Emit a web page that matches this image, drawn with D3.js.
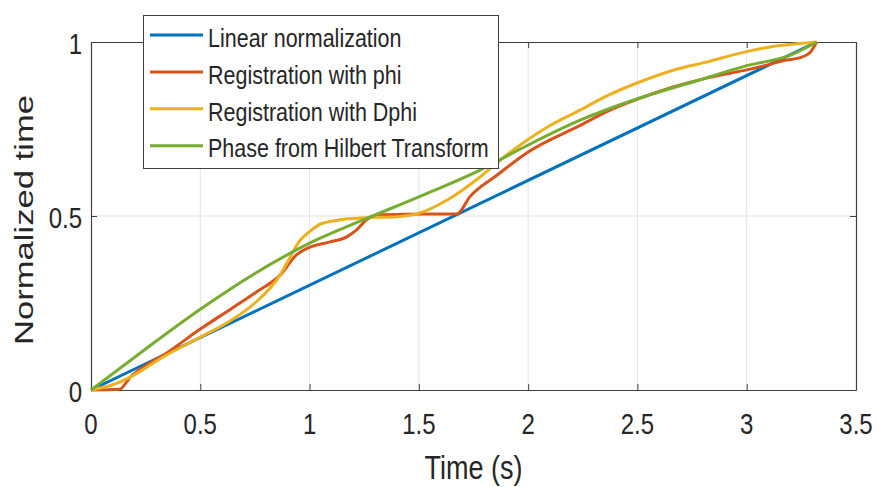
<!DOCTYPE html>
<html>
<head>
<meta charset="utf-8">
<script src="https://cdn.jsdelivr.net/npm/d3@7"></script>
<style>
  body { margin: 0; background: #fff; }
  text { font-family: 'Liberation Sans', Arial, sans-serif; fill: #262626; }
</style>
</head>
<body>
<svg id="chart" width="879" height="487"></svg>
<script>
// Series names (legend order)
const seriesNames = ['Linear normalization', 'Registration with phi', 'Registration with Dphi', 'Phase from Hilbert Transform']

// [time (s), normalized time]
const linearNorm = [[0, 0], [3.32, 1]]
const regPhi = [
  [0, 0], [0.13, 0.002], [0.18, 0.037], [0.25, 0.07], [0.33, 0.1], [0.5, 0.175], [0.64, 0.233],
  [0.75, 0.279], [0.865, 0.33], [0.94, 0.388], [1.0, 0.41], [1.09, 0.425], [1.17, 0.44],
  [1.215, 0.46], [1.26, 0.489], [1.31, 0.503], [1.45, 0.505], [1.675, 0.506], [1.733, 0.555],
  [1.857, 0.617], [2.0, 0.684], [2.24, 0.761], [2.36, 0.8], [2.51, 0.838], [2.66, 0.87],
  [2.82, 0.897], [3.0, 0.92], [3.1, 0.935], [3.17, 0.947], [3.245, 0.955], [3.29, 0.97], [3.32, 1.0]
]
const regDphi = [
  [0, 0], [0.1, 0.015], [0.18, 0.037], [0.33, 0.095], [0.5, 0.152], [0.64, 0.2], [0.75, 0.25],
  [0.865, 0.33], [0.91, 0.38], [0.95, 0.425], [1.0, 0.455], [1.05, 0.477], [1.14, 0.489],
  [1.25, 0.495], [1.4, 0.498], [1.5, 0.508], [1.63, 0.546], [1.78, 0.612], [1.9, 0.675],
  [2.0, 0.72], [2.1, 0.76], [2.24, 0.805], [2.36, 0.845], [2.51, 0.885], [2.66, 0.918],
  [2.82, 0.943], [2.97, 0.968], [3.12, 0.987], [3.27, 0.997], [3.32, 1.0]
]
const hilbertPhase = [
  [0, 0], [0.1, 0.047], [0.25, 0.118], [0.5, 0.232], [0.75, 0.335], [1.0, 0.422], [1.25, 0.49],
  [1.5, 0.555], [1.78, 0.632], [2.0, 0.704], [2.24, 0.776], [2.5, 0.837], [2.78, 0.89],
  [3.0, 0.932], [3.2, 0.962], [3.32, 1.0]
]

const xTicks = [0, 0.5, 1, 1.5, 2, 2.5, 3, 3.5]
const yTicks = [0, 0.5, 1]
const xTickLabels = ['0', '0.5', '1', '1.5', '2', '2.5', '3', '3.5']
const yTickLabels = ['0', '0.5', '1']

const colors = ['#0072BD', '#D95319', '#EDB120', '#77AC30']
const allSeries = [linearNorm, regPhi, regDphi, hilbertPhase]

const margin = { left: 91, right: 856, top: 42, bottom: 390 }
const svg = d3.select('#chart')

let x = d3.scaleLinear().domain([0, 3.5]).range([margin.left, margin.right])
let y = d3.scaleLinear().domain([0, 1]).range([margin.bottom, margin.top])

// Grid
svg.append('g')
  .selectAll('line')
  .data(xTicks.slice(1, -1))
  .enter()
  .append('line')
  .attr('x1', (d) => { return x(d) })
  .attr('x2', (d) => { return x(d) })
  .attr('y1', y(0))
  .attr('y2', y(1))
  .attr('stroke', '#e3e3e3')
  .attr('stroke-width', 1)

svg.append('g')
  .selectAll('line')
  .data(yTicks.slice(1, -1))
  .enter()
  .append('line')
  .attr('x1', x(0))
  .attr('x2', x(3.5))
  .attr('y1', (d) => { return y(d) })
  .attr('y2', (d) => { return y(d) })
  .attr('stroke', '#e3e3e3')
  .attr('stroke-width', 1)

// Axes (ticks pointing inward, MATLAB box)
const axisColor = '#404040'
function styleAxis(g) {
  g.select('.domain').attr('stroke', axisColor).attr('stroke-width', 1.2)
  g.selectAll('.tick line').attr('stroke', axisColor)
  g.selectAll('text').remove()
}

svg.append('g')
  .attr('transform', `translate(0,${margin.bottom})`)
  .call(d3.axisBottom(x).tickValues(xTicks).tickSize(-6).tickSizeOuter(0))
  .call(styleAxis)
svg.append('g')
  .attr('transform', `translate(0,${margin.top})`)
  .call(d3.axisTop(x).tickValues(xTicks).tickSize(-6).tickSizeOuter(0))
  .call(styleAxis)
svg.append('g')
  .attr('transform', `translate(${margin.left},0)`)
  .call(d3.axisLeft(y).tickValues(yTicks).tickSize(-6).tickSizeOuter(0))
  .call(styleAxis)
svg.append('g')
  .attr('transform', `translate(${margin.right},0)`)
  .call(d3.axisRight(y).tickValues(yTicks).tickSize(-6).tickSizeOuter(0))
  .call(styleAxis)

// Tick labels (tall, narrow look of the original)
svg.append('g')
  .selectAll('text')
  .data(xTicks)
  .enter()
  .append('text')
  .attr('transform', (d) => { return `translate(${x(d)},434) scale(1,1.2)` })
  .attr('text-anchor', 'middle')
  .style('font-size', '24px')
  .text((d, i) => { return xTickLabels[i] })

svg.append('g')
  .selectAll('text')
  .data(yTicks)
  .enter()
  .append('text')
  .attr('transform', (d) => { return `translate(${margin.left - 9},${y(d) + 11.5}) scale(1,1.2)` })
  .attr('text-anchor', 'end')
  .style('font-size', '24px')
  .text((d, i) => { return yTickLabels[i] })

// Axis labels
svg.append('text')
  .attr('transform', `translate(${(margin.left + margin.right) / 2},479) scale(1,1.2)`)
  .attr('text-anchor', 'middle')
  .style('font-size', '27px')
  .text('Time (s)')

svg.append('text')
  .attr('transform', 'translate(33,220) rotate(-90)')
  .attr('text-anchor', 'middle')
  .attr('textLength', 250)
  .attr('lengthAdjust', 'spacingAndGlyphs')
  .style('font-size', '25px')
  .text('Normalized time')

// Lines
const lineGen = d3
  .line()
  .x((d) => {
    return x(d[0])
  })
  .y((d) => {
    return y(d[1])
  })
  .curve(d3.curveMonotoneX)

svg.append('g')
  .selectAll('path')
  .data(allSeries)
  .enter()
  .append('path')
  .attr('d', (d) => { return lineGen(d) })
  .attr('stroke', (d, i) => { return colors[i] })
  .attr('stroke-width', 3)
  .attr('stroke-linejoin', 'round')
  .style('fill', 'none')

// Legend
const legend = svg.append('g').attr('id', 'legend')
legend.append('rect')
  .attr('x', 143.5)
  .attr('y', 15.5)
  .attr('width', 355)
  .attr('height', 153)
  .attr('fill', '#fff')
  .attr('stroke', axisColor)
  .attr('stroke-width', 1)

const rows = legend.selectAll('.row')
  .data(seriesNames)
  .enter()
  .append('g')
  .attr('class', 'row')
  .attr('transform', (d, i) => { return `translate(0,${35 + i * 36.9})` })

rows.append('line')
  .attr('x1', 150)
  .attr('x2', 203)
  .attr('stroke', (d, i) => { return colors[i] })
  .attr('stroke-width', 3)

rows.append('text')
  .attr('transform', 'translate(208,11.7) scale(1,1.2)')
  .style('font-size', '21.5px')
  .text((d) => { return d })
</script>
</body>
</html>
